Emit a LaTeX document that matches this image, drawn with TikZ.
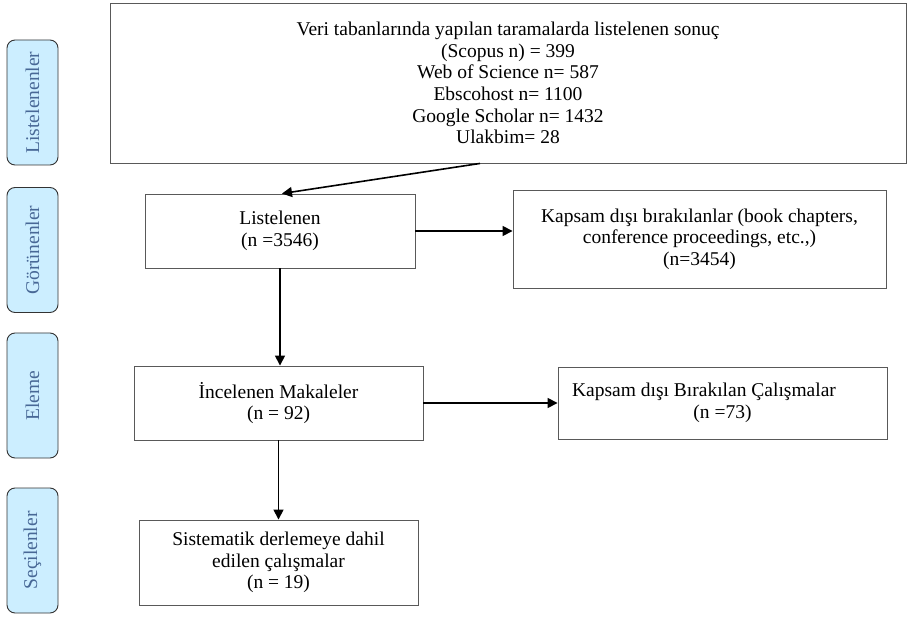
\documentclass[tikz,border=0pt]{standalone}
\usepackage{fontspec}
\setmainfont{Liberation Serif}
\usepackage{tikz}
\usetikzlibrary{arrows.meta}

\definecolor{stagefill}{RGB}{204,238,255}
\definecolor{stagetext}{RGB}{72,104,150}

\tikzset{
  stage/.style={draw=black!80, line width=0.9pt, rounded corners=8pt, fill=stagefill,
    text=stagetext, rotate=90, minimum width=125pt, minimum height=51pt, inner sep=0pt},
  flowbox/.style={draw=black!65, line width=0.9pt, align=center, inner sep=0pt},
  flowarrow/.style={-{Triangle[length=10pt,width=10pt]}, line width=1.6pt}
}

\begin{document}
\begin{tikzpicture}[x=1pt,y=-1pt,font=\fontsize{19.5}{21.6}\selectfont]
          \useasboundingbox (0,0) rectangle (907,617);

          % stage labels on the left
          \node[stage] (S1) at (32.5,102.5) {Listelenenler};
          \node[stage] (S2) at (32.5,250) {Görünenler};
          \node[stage] (S3) at (32.5,395.5) {Eleme};
          \node[stage] (S4) at (32.5,550.5) {Seçilenler};

          % flow boxes
          \node[flowbox,minimum width=796pt,minimum height=160pt] (DB) at (508,83)
            {Veri tabanlarında yapılan taramalarda listelenen sonuç\\(Scopus n) = 399\\Web of Science n= 587\\Ebscohost n= 1100\\Google Scholar n= 1432\\Ulakbim= 28};
          \node[flowbox,minimum width=270pt,minimum height=74pt] (LST) at (280,231)
            {Listelenen\\(n =3546)};
          \node[flowbox,minimum width=373pt,minimum height=98pt] (EX1) at (699.5,239)
            {Kapsam dışı bırakılanlar (book chapters,\\conference proceedings, etc.,)\\(n=3454)};
          \node[flowbox,minimum width=289pt,minimum height=74pt] (INC) at (278.5,403)
            {İncelenen Makaleler\\(n = 92)};
          \node[flowbox,minimum width=329pt,minimum height=72pt] (EX2) at (722.5,403)
            {Kapsam dışı Bırakılan Çalışmalar\hspace*{37pt}\\(n =73)};
          \node[flowbox,minimum width=279pt,minimum height=85pt] (SEL) at (278.5,562.5)
            {Sistematik derlemeye dahil\\edilen çalışmalar\\(n = 19)};

          % connectors
          \draw[flowarrow] ([xshift=-28pt]DB.south) -- ([xshift=2pt]LST.north);
          \draw[flowarrow] (LST.east) -- (LST.east -| EX1.west);
          \draw[flowarrow] (LST.south) -- (LST.south |- INC.north);
          \draw[flowarrow] (INC.east) -- (INC.east -| EX2.west);
          \draw[flowarrow] (INC.south) -- (INC.south |- SEL.north);
        \end{tikzpicture}
\end{document}
